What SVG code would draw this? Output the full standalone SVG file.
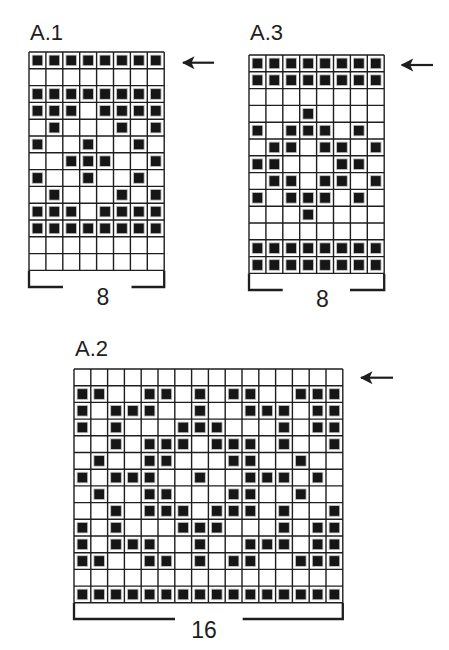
<svg xmlns="http://www.w3.org/2000/svg" xmlns:xlink="http://www.w3.org/1999/xlink" width="449" height="650" viewBox="0 0 449 650">
<style>
.grid{fill:none;stroke:#1e1e1e;stroke-width:1.4}
.fill{fill:#161616;stroke:#c4c4c4;stroke-width:0.8}
.br{fill:none;stroke:#1e1e1e;stroke-width:2.3}
.t{font-family:"Liberation Sans",Arial,sans-serif;font-size:22px;fill:#1e1e1e}
.n{font-family:"Liberation Sans",Arial,sans-serif;font-size:23px;fill:#1e1e1e;text-anchor:middle}
.arr{fill:none;stroke:#1e1e1e;stroke-width:2.2}
</style>
<defs>
<marker id="ah" viewBox="0 0 14 14" refX="1" refY="7" markerWidth="14" markerHeight="14" markerUnits="userSpaceOnUse" orient="auto">
<path d="M0 7 L12.5 0.5 L9.5 7 L12.5 13.5 Z" fill="#1e1e1e"/>
</marker>
<rect id="f" x="-5.3" y="-5.3" width="10.6" height="10.6" class="fill"/>
<path id="g8" class="grid" d="M0 0V218.4M16.9 0V218.4M33.8 0V218.4M50.7 0V218.4M67.6 0V218.4M84.5 0V218.4M101.4 0V218.4M118.3 0V218.4M135.2 0V218.4M0 0H135.2M0 16.8H135.2M0 33.6H135.2M0 50.4H135.2M0 67.2H135.2M0 84H135.2M0 100.8H135.2M0 117.6H135.2M0 134.4H135.2M0 151.2H135.2M0 168H135.2M0 184.8H135.2M0 201.6H135.2M0 218.4H135.2"/>
<g id="full8"><use href="#f" x="8.45"/><use href="#f" x="25.35"/><use href="#f" x="42.25"/><use href="#f" x="59.15"/><use href="#f" x="76.05"/><use href="#f" x="92.95"/><use href="#f" x="109.85"/><use href="#f" x="126.75"/></g>
<path id="g16" class="grid" d="M0 0V233.8M16.8 0V233.8M33.6 0V233.8M50.4 0V233.8M67.2 0V233.8M84 0V233.8M100.8 0V233.8M117.6 0V233.8M134.4 0V233.8M151.2 0V233.8M168 0V233.8M184.8 0V233.8M201.6 0V233.8M218.4 0V233.8M235.2 0V233.8M252 0V233.8M268.8 0V233.8M0 0H268.8M0 16.7H268.8M0 33.4H268.8M0 50.1H268.8M0 66.8H268.8M0 83.5H268.8M0 100.2H268.8M0 116.9H268.8M0 133.6H268.8M0 150.3H268.8M0 167H268.8M0 183.7H268.8M0 200.4H268.8M0 217.1H268.8M0 233.8H268.8"/>
<g id="b2"><use href="#f" x="8.4"/><use href="#f" x="25.2"/><use href="#f" x="75.6"/><use href="#f" x="92.4"/><use href="#f" x="126"/><use href="#f" x="159.6"/><use href="#f" x="176.4"/><use href="#f" x="226.8"/><use href="#f" x="243.6"/><use href="#f" x="260.4"/></g>
<g id="b3"><use href="#f" x="8.4"/><use href="#f" x="42"/><use href="#f" x="58.8"/><use href="#f" x="75.6"/><use href="#f" x="126"/><use href="#f" x="176.4"/><use href="#f" x="193.2"/><use href="#f" x="210"/><use href="#f" x="243.6"/><use href="#f" x="260.4"/></g>
<g id="b4"><use href="#f" x="8.4"/><use href="#f" x="42"/><use href="#f" x="109.2"/><use href="#f" x="126"/><use href="#f" x="142.8"/><use href="#f" x="210"/><use href="#f" x="243.6"/><use href="#f" x="260.4"/></g>
<g id="b5"><use href="#f" x="42"/><use href="#f" x="75.6"/><use href="#f" x="92.4"/><use href="#f" x="109.2"/><use href="#f" x="142.8"/><use href="#f" x="159.6"/><use href="#f" x="176.4"/><use href="#f" x="210"/><use href="#f" x="260.4"/></g>
<g id="b6"><use href="#f" x="25.2"/><use href="#f" x="75.6"/><use href="#f" x="92.4"/><use href="#f" x="159.6"/><use href="#f" x="176.4"/><use href="#f" x="226.8"/></g>
<g id="b7"><use href="#f" x="8.4"/><use href="#f" x="42"/><use href="#f" x="58.8"/><use href="#f" x="75.6"/><use href="#f" x="126"/><use href="#f" x="176.4"/><use href="#f" x="193.2"/><use href="#f" x="210"/><use href="#f" x="243.6"/></g>
<g id="b14"><use href="#b2"/><use href="#f" x="42"/><use href="#f" x="58.8"/><use href="#f" x="109.2"/><use href="#f" x="142.8"/><use href="#f" x="193.2"/><use href="#f" x="210"/></g>
</defs>
<rect width="449" height="650" fill="#ffffff"/>

<g id="chartA1">
<text class="t" x="30" y="39.5">A.1</text>
<g transform="translate(29,52)">
<use href="#g8"/>
<use href="#full8" y="8.4"/>
<use href="#full8" y="42"/>
<use href="#f" x="8.45" y="58.8"/><use href="#f" x="25.35" y="58.8"/><use href="#f" x="42.25" y="58.8"/><use href="#f" x="76.05" y="58.8"/><use href="#f" x="92.95" y="58.8"/><use href="#f" x="109.85" y="58.8"/><use href="#f" x="126.75" y="58.8"/>
<use href="#f" x="25.35" y="75.6"/><use href="#f" x="92.95" y="75.6"/><use href="#f" x="126.75" y="75.6"/>
<use href="#f" x="8.45" y="92.4"/><use href="#f" x="59.15" y="92.4"/><use href="#f" x="109.85" y="92.4"/>
<use href="#f" x="42.25" y="109.2"/><use href="#f" x="59.15" y="109.2"/><use href="#f" x="76.05" y="109.2"/><use href="#f" x="126.75" y="109.2"/>
<use href="#f" x="8.45" y="126"/><use href="#f" x="59.15" y="126"/><use href="#f" x="109.85" y="126"/>
<use href="#f" x="25.35" y="142.8"/><use href="#f" x="92.95" y="142.8"/><use href="#f" x="126.75" y="142.8"/>
<use href="#f" x="8.45" y="159.6"/><use href="#f" x="25.35" y="159.6"/><use href="#f" x="42.25" y="159.6"/><use href="#f" x="76.05" y="159.6"/><use href="#f" x="92.95" y="159.6"/><use href="#f" x="109.85" y="159.6"/><use href="#f" x="126.75" y="159.6"/>
<use href="#full8" y="176.4"/>
</g>
<path class="br" d="M29 270.4V287H63M131.5 287H164.2V270.4"/>
<text class="n" x="103" y="304.5">8</text>
</g>

<g id="chartA3">
<text class="t" x="250" y="39.5">A.3</text>
<g transform="translate(249,55)">
<use href="#g8"/>
<use href="#full8" y="8.4"/>
<use href="#full8" y="25.2"/>
<use href="#f" x="59.15" y="58.8"/>
<use href="#f" x="8.45" y="75.6"/><use href="#f" x="42.25" y="75.6"/><use href="#f" x="59.15" y="75.6"/><use href="#f" x="76.05" y="75.6"/><use href="#f" x="109.85" y="75.6"/>
<use href="#f" x="25.35" y="92.4"/><use href="#f" x="42.25" y="92.4"/><use href="#f" x="76.05" y="92.4"/><use href="#f" x="92.95" y="92.4"/><use href="#f" x="126.75" y="92.4"/>
<use href="#f" x="8.45" y="109.2"/><use href="#f" x="25.35" y="109.2"/><use href="#f" x="92.95" y="109.2"/><use href="#f" x="109.85" y="109.2"/>
<use href="#f" x="25.35" y="126"/><use href="#f" x="42.25" y="126"/><use href="#f" x="76.05" y="126"/><use href="#f" x="92.95" y="126"/><use href="#f" x="126.75" y="126"/>
<use href="#f" x="8.45" y="142.8"/><use href="#f" x="42.25" y="142.8"/><use href="#f" x="59.15" y="142.8"/><use href="#f" x="76.05" y="142.8"/><use href="#f" x="109.85" y="142.8"/>
<use href="#f" x="59.15" y="159.6"/>
<use href="#full8" y="193.2"/>
<use href="#full8" y="210"/>
</g>
<path class="br" d="M249 273.4V290H282.7M350 290H384.2V273.4"/>
<text class="n" x="322.5" y="307">8</text>
</g>

<g id="chartA2">
<text class="t" x="75" y="356">A.2</text>
<g transform="translate(74,369)">
<use href="#g16"/>
<use href="#b2" y="25.05"/>
<use href="#b3" y="41.75"/>
<use href="#b4" y="58.45"/>
<use href="#b5" y="75.15"/>
<use href="#b6" y="91.85"/>
<use href="#b7" y="108.55"/>
<use href="#b6" y="125.25"/>
<use href="#b5" y="141.95"/>
<use href="#b4" y="158.65"/>
<use href="#b3" y="175.35"/>
<use href="#b2" y="192.05"/>
<use href="#b14" y="225.45"/>
</g>
<path class="br" d="M74 602.8V619H175M242.7 619H342.8V602.8"/>
<text class="n" x="204" y="637.5">16</text>
</g>

<g id="arrows">
<path class="arr" marker-start="url(#ah)" d="M183 62.7H214"/>
<path class="arr" marker-start="url(#ah)" d="M401.7 65H433"/>
<path class="arr" marker-start="url(#ah)" d="M361 377.7H393"/>
</g>
</svg>
